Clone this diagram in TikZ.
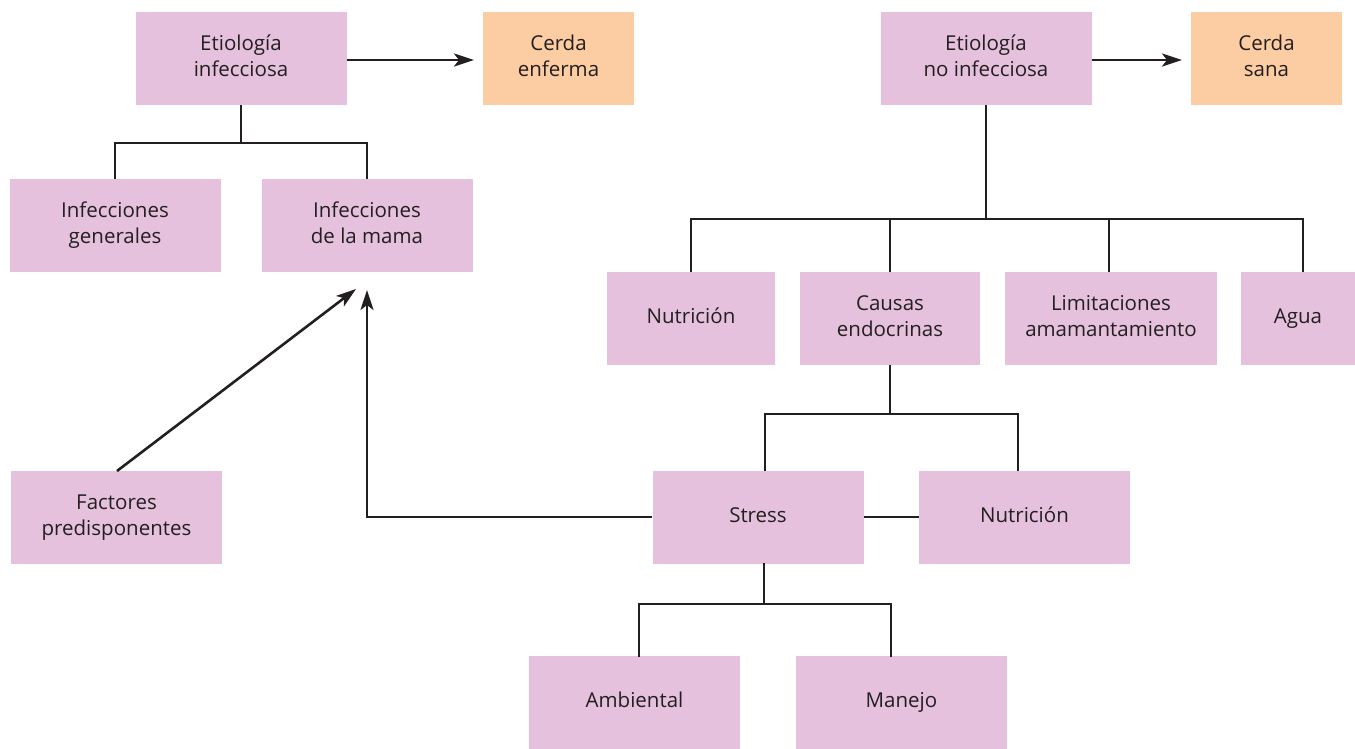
\documentclass[tikz,border=0pt]{standalone}
\usepackage{fontspec}
\setmainfont{Open Sans}
\usetikzlibrary{arrows.meta}
\definecolor{boxpink}{HTML}{E6C1DD}
\definecolor{boxorange}{HTML}{FCCCA2}
\definecolor{txt}{HTML}{231F20}
\newcommand{\myln}[1]{#1\strut}
\begin{document}
\begin{tikzpicture}[x=1pt,y=-1pt,
  box/.style={fill=boxpink, draw=none, minimum width=211pt, minimum height=93pt, inner sep=0pt, align=center, text=txt, font=\fontsize{20.5}{26}\selectfont},
  obox/.style={box, fill=boxorange, minimum width=151pt},
  conn/.style={line width=2.6pt, draw=txt},
  arr/.style={conn, -{Stealth[length=20pt,width=13pt,inset=5pt]}}]
\useasboundingbox (0,0) rectangle (1355,748);
\node[box] (ei) at (241,58.5) {\myln{Etiología}\\\myln{infecciosa}};
\node[obox] (ce) at (558.5,58.5) {\myln{Cerda}\\\myln{enferma}};
\node[box] (eni) at (986,58.5) {\myln{Etiología}\\\myln{no infecciosa}};
\node[obox] (cs) at (1266.5,58.5) {\myln{Cerda}\\\myln{sana}};
\node[box] (ig) at (115,225.5) {\myln{Infecciones}\\\myln{generales}};
\node[box] (im) at (367,225.5) {\myln{Infecciones}\\\myln{de la mama}};
\node[box, minimum width=168pt] (n1) at (691,318.5) {\myln{Nutrición}};
\node[box, minimum width=180pt] (ca) at (890,318.5) {\myln{Causas}\\\myln{endocrinas}};
\node[box, minimum width=212pt] (li) at (1111,318.5) {\myln{Limitaciones}\\\myln{amamantamiento}};
\node[box, minimum width=114pt] (ag) at (1298,318.5) {\myln{Agua}};
\node[box] (fp) at (116.5,517) {\myln{Factores}\\\myln{predisponentes}};
\node[box] (st) at (758,517) {\myln{Stress}};
\node[box] (n2) at (1024.5,517) {\myln{Nutrición}};
\node[box] (am) at (634.5,702.5) {\myln{Ambiental}};
\node[box] (ma) at (901.5,702.5) {\myln{Manejo}};
% arrows to orange boxes
\coordinate (a1) at (474,60);
\draw[arr] (ei.east |- a1) -- (a1);
\coordinate (a2) at (1182,60);
\draw[arr] (eni.east |- a2) -- (a2);
% tree infecciosa
\draw[conn] (ei.south) -- (241,143) -| (ig.north);
\draw[conn] (241,143) -| (im.north);
% tree no infecciosa
\draw[conn] (eni.south) -- (986,219);
\draw[conn] (n1.north) |- (1303,219) -- (1303,272);
\draw[conn] (ca.north) -- (890,219);
\draw[conn] (1109,272) -- (1109,219);
% causas endocrinas
\draw[conn] (ca.south) -- (890,414);
\draw[conn] (765,471) |- (1018,414) -- (1018,471);
% stress
\draw[conn] (764,563) -- (764,604);
\draw[conn] (639,657) |- (891,604) -- (891,657);
\draw[conn] (st.east) -- (n2.west);
% arrows to infecciones de la mama
\coordinate (t1) at (367,290);
\draw[arr] (st.west) -| (t1);
\coordinate (t2) at (356,289);
\draw[arr] (117,471) -- (t2);
\end{tikzpicture}
\end{document}
